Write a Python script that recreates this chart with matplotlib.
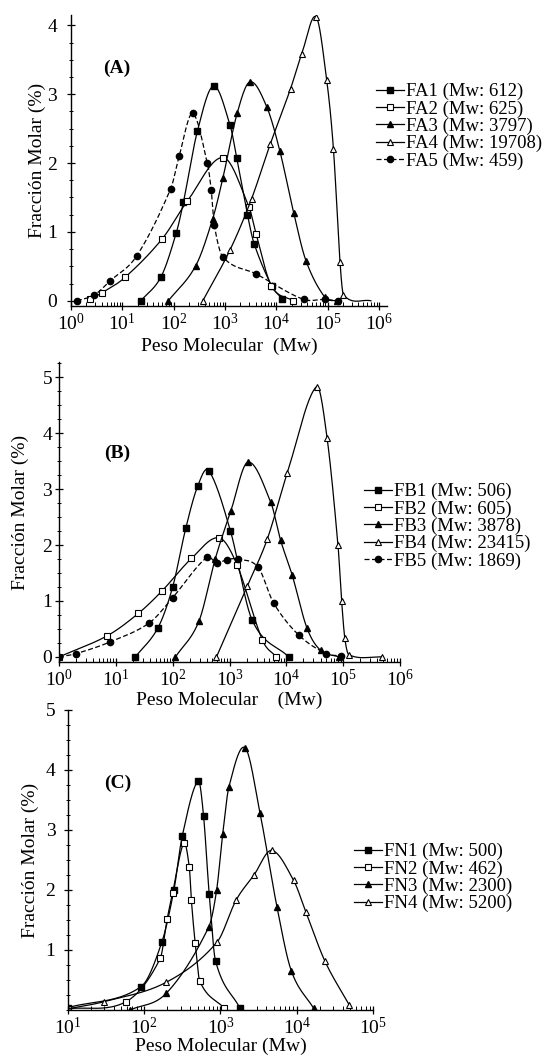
import numpy as np
import matplotlib
matplotlib.use("Agg")
import matplotlib.pyplot as plt
import matplotlib.transforms as mtransforms
from matplotlib.ticker import LogLocator, MultipleLocator, FixedLocator, NullFormatter, LogFormatterSciNotation

plt.rcParams['font.family'] = ['Liberation Serif', 'DejaVu Serif']
plt.rcParams['mathtext.fontset'] = 'custom'
plt.rcParams['mathtext.rm'] = 'Liberation Serif'
plt.rcParams['mathtext.it'] = 'Liberation Serif:italic'
plt.rcParams['mathtext.bf'] = 'Liberation Serif:bold'

# ---------------- Panel A data ----------------
fa_labels = ["FA1 (Mw: 612)", "FA2 (Mw: 625)", "FA3 (Mw: 3797)", "FA4 (Mw: 19708)", "FA5 (Mw: 459)"]
fa_xticks = [1, 10, 100, 1e3, 1e4, 1e5, 1e6]
fa1_mw = [23, 57, 112, 155, 290, 600, 1260, 1700, 2750, 3700, 8100, 13000]
fa1_y = [0.0, 0.35, 0.98, 1.43, 2.46, 3.12, 2.55, 2.07, 1.25, 0.83, 0.22, 0.03]
fa2_mw = [2.3, 4.1, 11.3, 60, 186, 930, 2950, 4050, 8000, 21000]
fa2_y = [0.02, 0.12, 0.34, 0.90, 1.45, 2.08, 1.36, 0.97, 0.22, 0.0]
fa3_mw = [79, 270, 577, 910, 1740, 3090, 6500, 11800, 22000, 38000, 89000, 150000]
fa3_y = [0.0, 0.51, 1.19, 1.78, 2.73, 3.18, 2.82, 2.17, 1.27, 0.58, 0.05, 0.0]
fa4_mw = [370, 1260, 3300, 7600, 19000, 31500, 60000, 96000, 130000, 175000, 204000, 700000]
fa4_y = [0.0, 0.74, 1.48, 2.27, 3.08, 3.59, 4.12, 3.21, 2.21, 0.56, 0.09, 0.0]
fa5_mw = [1.3, 2.8, 5.8, 19, 88, 128, 235, 454, 540, 620, 905, 4050, 34000, 89000, 160000]
fa5_y = [0.0, 0.08, 0.29, 0.65, 1.63, 2.10, 2.72, 2.0, 1.61, 1.10, 0.64, 0.39, 0.02, 0.02, 0.0]

# ---------------- Panel B data ----------------
fb_labels = ["FB1 (Mw: 506)", "FB2 (Mw: 605)", "FB3 (Mw: 3878)", "FB4 (Mw: 23415)", "FB5 (Mw: 1869)"]
fb_xticks = [1, 10, 100, 1e3, 1e4, 1e5, 1e6]
fb1_mw = [22, 55, 100, 170, 275, 430, 1040, 2500, 11000]
fb1_y = [0.0, 0.52, 1.25, 2.30, 3.05, 3.33, 2.25, 0.66, 0.0]
fb2_mw = [1, 7.1, 25, 65, 214, 650, 1350, 3800, 6700]
fb2_y = [0.0, 0.38, 0.78, 1.18, 1.76, 2.13, 1.65, 0.30, 0.0]
fb3_mw = [112, 290, 560, 1050, 2100, 5300, 7900, 12700, 23000, 40000, 85000]
fb3_y = [0.0, 0.64, 1.75, 2.6, 3.48, 2.77, 2.09, 1.46, 0.52, 0.12, 0.0]
fb4_mw = [590, 2040, 4600, 10400, 34000, 52000, 81000, 94000, 107000, 126000, 490000]
fb4_y = [0.0, 1.26, 2.1, 3.29, 4.83, 3.92, 2.0, 1.0, 0.33, 0.04, 0.0]
fb5_mw = [1, 2, 8, 39, 100, 400, 600, 900, 1400, 3200, 6000, 16600, 50000, 90000]
fb5_y = [0.0, 0.06, 0.27, 0.61, 1.06, 1.78, 1.68, 1.74, 1.75, 1.6, 0.96, 0.39, 0.06, 0.02]

# ---------------- Panel C data ----------------
fn_labels = ["FN1 (Mw: 500)", "FN2 (Mw: 462)", "FN3 (Mw: 2300)", "FN4 (Mw: 5200)"]
fn_xticks = [10, 100, 1e3, 1e4, 1e5]
fn1_mw = [10, 91, 170, 245, 315, 510, 600, 710, 860, 1800]
fn1_y = [0.04, 0.39, 1.13, 2.0, 2.9, 3.82, 3.23, 1.94, 0.82, 0.03]
fn2_mw = [10, 58, 162, 200, 235, 330, 390, 415, 465, 535, 1120]
fn2_y = [0.02, 0.14, 0.86, 1.52, 1.95, 2.78, 2.38, 1.83, 1.12, 0.48, 0.03]
fn3_mw = [65, 195, 700, 890, 1070, 1290, 2100, 3300, 5500, 8500, 16600]
fn3_y = [0.0, 0.28, 1.38, 2.0, 2.94, 3.72, 4.37, 3.28, 1.72, 0.65, 0.03]
fn4_mw = [10, 30, 193, 900, 1600, 2750, 4700, 9100, 13200, 23500, 49000]
fn4_y = [0.02, 0.14, 0.46, 1.13, 1.83, 2.25, 2.66, 2.16, 1.63, 0.81, 0.08]


def smooth(xs, ys, n=24):
    """Cardinal cubic Hermite curve through the points, in log10(x)."""
    lx = np.log10(np.asarray(xs, float))
    y = np.asarray(ys, float)
    m = np.zeros_like(y)
    for i in range(len(y)):
        if i == 0:
            m[i] = (y[1] - y[0]) / (lx[1] - lx[0])
        elif i == len(y) - 1:
            m[i] = (y[-1] - y[-2]) / (lx[-1] - lx[-2])
        else:
            m[i] = (y[i + 1] - y[i - 1]) / (lx[i + 1] - lx[i - 1])
    X, Y = [], []
    for i in range(len(y) - 1):
        h = lx[i + 1] - lx[i]
        t = np.linspace(0, 1, n, endpoint=False)
        h00 = 2 * t**3 - 3 * t**2 + 1
        h10 = t**3 - 2 * t**2 + t
        h01 = -2 * t**3 + 3 * t**2
        h11 = t**3 - t**2
        X.append(lx[i] + h * t)
        Y.append(h00 * y[i] + h10 * h * m[i] + h01 * y[i + 1] + h11 * h * m[i + 1])
    X.append([lx[-1]])
    Y.append([y[-1]])
    X = 10 ** np.concatenate(X)
    Y = np.concatenate(Y)
    idx = [i * n for i in range(len(y))]
    return X, Y, idx


STYLES = {
    'fsq': dict(marker='s', mfc='black', mec='black', ms=4),
    'osq': dict(marker='s', mfc='white', mec='black', ms=4, mew=0.8),
    'ftr': dict(marker='^', mfc='black', mec='black', ms=4.5),
    'otr': dict(marker='^', mfc='white', mec='black', ms=4.5, mew=0.8),
    'fci': dict(marker='o', mfc='black', mec='black', ms=4.5),
}


def draw(ax, xs, ys, style, label, dashed=False, unmarked_last=False):
    X, Y, idx = smooth(xs, ys)
    if unmarked_last:
        idx = idx[:-1]
    ls = (0, (4, 2)) if dashed else '-'
    ax.plot(X, Y, color='black', lw=0.9, ls=ls, markevery=idx, label=label, **STYLES[style])


W, H = 547, 1055
fig = plt.figure(figsize=(W / 100, H / 100), dpi=100)


def make_axes(left, right, top, bottom):
    return fig.add_axes([left / W, 1 - bottom / H, (right - left) / W, (bottom - top) / H])


def style_axes(ax, ylim, yticks, xlim, xticks, ylab_x, ypad):
    ax.set_xscale('log')
    ax.set_xlim(*xlim)
    ax.set_ylim(*ylim)
    for s in ['top', 'right']:
        ax.spines[s].set_visible(False)
    for s in ['left', 'bottom']:
        ax.spines[s].set_linewidth(1.0)
    ax.xaxis.set_major_locator(FixedLocator(xticks))
    minors = [d * k for d in xticks for k in range(2, 10) if d * k <= xlim[1]]
    ax.xaxis.set_minor_locator(FixedLocator(minors))
    ax.xaxis.set_minor_formatter(NullFormatter())
    ax.xaxis.set_major_formatter(LogFormatterSciNotation())
    ax.yaxis.set_major_locator(FixedLocator(yticks))
    ax.yaxis.set_minor_locator(MultipleLocator(0.25))
    ax.tick_params(axis='x', which='major', direction='inout', length=6, width=0.9,
                   labelsize=14, pad=2)
    ax.tick_params(axis='x', which='minor', direction='in', length=3, width=0.7)
    ax.tick_params(axis='y', which='major', direction='inout', length=6, width=0.9,
                   labelsize=14, pad=ypad)
    ax.tick_params(axis='y', which='minor', direction='inout', length=3, width=0.7)
    ax.set_ylabel("Fracción Molar (%)", fontsize=14)
    tr = mtransforms.blended_transform_factory(fig.transFigure, ax.transAxes)
    ax.yaxis.set_label_coords(ylab_x, 0.5, transform=tr)


# ---------- Panel A ----------
axA = make_axes(71, 387, 15, 305.6)
draw(axA, fa1_mw, fa1_y, 'fsq', fa_labels[0])
draw(axA, fa2_mw, fa2_y, 'osq', fa_labels[1])
draw(axA, fa3_mw, fa3_y, 'ftr', fa_labels[2])
draw(axA, fa4_mw, fa4_y, 'otr', fa_labels[3], unmarked_last=True)
draw(axA, fa5_mw, fa5_y, 'fci', fa_labels[4], dashed=True)
style_axes(axA, (-0.07, 4.15), [0, 1, 2, 3, 4], (1, 1.44e6), fa_xticks, 46 / W, 7)
axA.set_xlabel("Peso Molecular  (Mw)", fontsize=14, labelpad=3)
axA.text(117 / W, 1 - 68 / H, "(A)", transform=fig.transFigure, fontsize=14,
         fontweight='bold', ha='center', va='center')

# ---------- Panel B ----------
axB = make_axes(59, 400, 362, 662)
draw(axB, fb1_mw, fb1_y, 'fsq', fb_labels[0])
draw(axB, fb2_mw, fb2_y, 'osq', fb_labels[1])
draw(axB, fb3_mw, fb3_y, 'ftr', fb_labels[2])
draw(axB, fb4_mw, fb4_y, 'otr', fb_labels[3])
draw(axB, fb5_mw, fb5_y, 'fci', fb_labels[4], dashed=True)
style_axes(axB, (-0.09, 5.27), [0, 1, 2, 3, 4, 5], (1, 1e6), fb_xticks, 29 / W, 2)
axB.set_xlabel("Peso Molecular    (Mw)", fontsize=14, labelpad=1)
axB.text(117 / W, 1 - 453 / H, "(B)", transform=fig.transFigure, fontsize=14,
         fontweight='bold', ha='center', va='center')

# ---------- Panel C ----------
axC = make_axes(68, 373, 710, 1010)
draw(axC, fn1_mw, fn1_y, 'fsq', fn_labels[0])
draw(axC, fn2_mw, fn2_y, 'osq', fn_labels[1])
draw(axC, fn3_mw, fn3_y, 'ftr', fn_labels[2])
draw(axC, fn4_mw, fn4_y, 'otr', fn_labels[3])
style_axes(axC, (0, 5.0), [1, 2, 3, 4, 5], (10, 1e5), fn_xticks, 39 / W, 6)
axC.set_xlabel("Peso Molecular (Mw)", fontsize=14, labelpad=0)
axC.text(118 / W, 1 - 783 / H, "(C)", transform=fig.transFigure, fontsize=14,
         fontweight='bold', ha='center', va='center')

# ---------- Legends ----------
def legend(ax, x_px, y_px):
    ax.legend(loc='upper left', bbox_to_anchor=(x_px / W, 1 - y_px / H),
              bbox_transform=fig.transFigure, frameon=False, fontsize=13.5,
              handlelength=1.5, handletextpad=0.1, labelspacing=0.0,
              borderpad=0, borderaxespad=0, numpoints=1)

legend(axA, 376, 83)
legend(axB, 364, 483)
legend(axC, 354, 843)

fig.savefig("out.png", dpi=100)
